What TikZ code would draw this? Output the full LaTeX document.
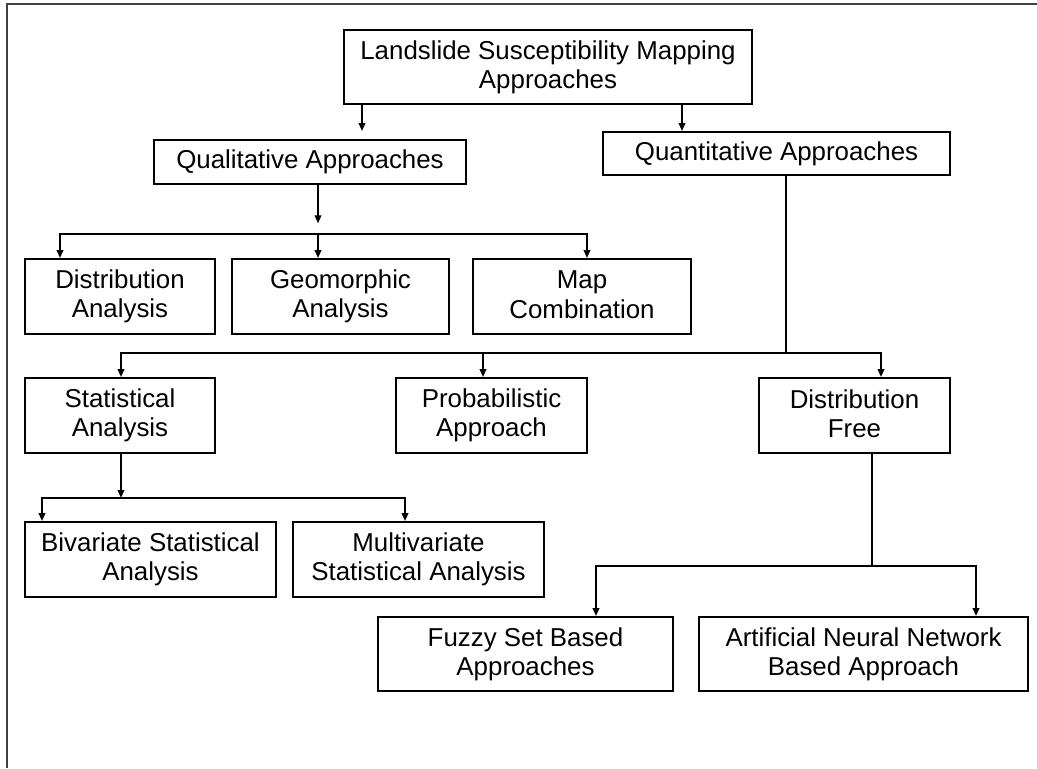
\documentclass[tikz,border=0pt]{standalone}
\usepackage{fontspec}
\setmainfont{Liberation Sans}
\usetikzlibrary{arrows.meta}
\newcommand\boxstrut{\rule[-3pt]{0pt}{17pt}}
\tikzset{
	blk/.style n args={2}{draw,line width=1.5pt,inner sep=0pt,align=center,minimum width=#1*0.75pt,minimum height=#2*0.75pt,
		execute at begin node=\boxstrut,execute at end node=\boxstrut},
	arr/.style={line width=1.3pt,-{Triangle[length=6pt,width=5pt]}},
	ln/.style={line width=1.3pt},
}
\begin{document}
\begin{tikzpicture}[x=0.75pt,y=-0.75pt,every node/.style={font=\fontsize{19.4}{22}\selectfont}]
\useasboundingbox (0,0) rectangle (1037,768);
\draw[line width=1pt,black!75] (7,768) -- (7,4) -- (1037,4);
% boxes
\node[blk={408}{74}] (LSM) at (548,67) {Landslide Susceptibility Mapping\\Approaches};
\node[blk={312}{44}] (QL) at (310,162) {Qualitative Approaches};
\node[blk={347}{43}] (QN) at (776.5,153.5) {Quantitative Approaches};
\node[blk={190}{75}] (DA) at (120,296.5) {Distribution\\Analysis};
\node[blk={217}{75}] (GA) at (340.5,296.5) {Geomorphic\\Analysis};
\node[blk={218}{75}] (MC) at (582,296.5) {Map\\Combination};
\node[blk={190}{75}] (SA) at (120,415.5) {Statistical\\Analysis};
\node[blk={191}{75}] (PA) at (491.5,415.5) {Probabilistic\\Approach};
\node[blk={191}{75}] (DF) at (854.5,415.5) {Distribution\\Free};
\node[blk={251}{75}] (BSA) at (150.5,559.5) {Bivariate Statistical\\Analysis};
\node[blk={251}{75}] (MSA) at (418.5,559.5) {Multivariate\\Statistical Analysis};
\node[blk={295}{74}] (FS) at (525.5,654) {Fuzzy Set Based\\Approaches};
\node[blk={329}{74}] (ANN) at (863.5,654) {Artificial Neural Network\\Based Approach};
% top level
\coordinate (a1) at (362,0);
\coordinate (a2) at (682,0);
\draw[arr,shorten >=6pt] (LSM.south -| a1) -- (QL.north -| a1);
\draw[arr] (LSM.south -| a2) -- (QN.north -| a2);
% qualitative
\coordinate (jq) at (318,234);
\coordinate (d1) at (60,234);
\coordinate (d3) at (587,234);
\draw[arr,shorten >=8pt] (QL.south -| jq) -- (jq);
\draw[arr] (jq) -| (d1 |- DA.north);
\draw[arr] (jq) -- (jq |- GA.north);
\draw[arr] (jq) -| (d3 |- MC.north);
% quantitative
\coordinate (jn) at (786,353);
\coordinate (e1) at (121,353);
\coordinate (e2) at (483,353);
\coordinate (e3) at (881,353);
\draw[ln] (QN.south -| jn) -- (jn);
\draw[arr] (jn) -| (e1 |- SA.north);
\draw[arr] (e2) -- (e2 |- PA.north);
\draw[arr] (jn) -| (e3 |- DF.north);
% statistical
\coordinate (js) at (121,498);
\coordinate (s1) at (42,498);
\coordinate (s2) at (405,498);
\draw[arr] (SA.south -| js) -- (js);
\draw[arr] (js) -| (s1 |- BSA.north);
\draw[arr] (js) -| (s2 |- MSA.north);
% distribution free
\coordinate (jf) at (872,566);
\coordinate (f1) at (596,566);
\coordinate (f2) at (976,566);
\draw[ln] (DF.south -| jf) -- (jf);
\draw[arr] (jf) -| (f1 |- FS.north);
\draw[arr] (jf) -| (f2 |- ANN.north);
\end{tikzpicture}
\end{document}
